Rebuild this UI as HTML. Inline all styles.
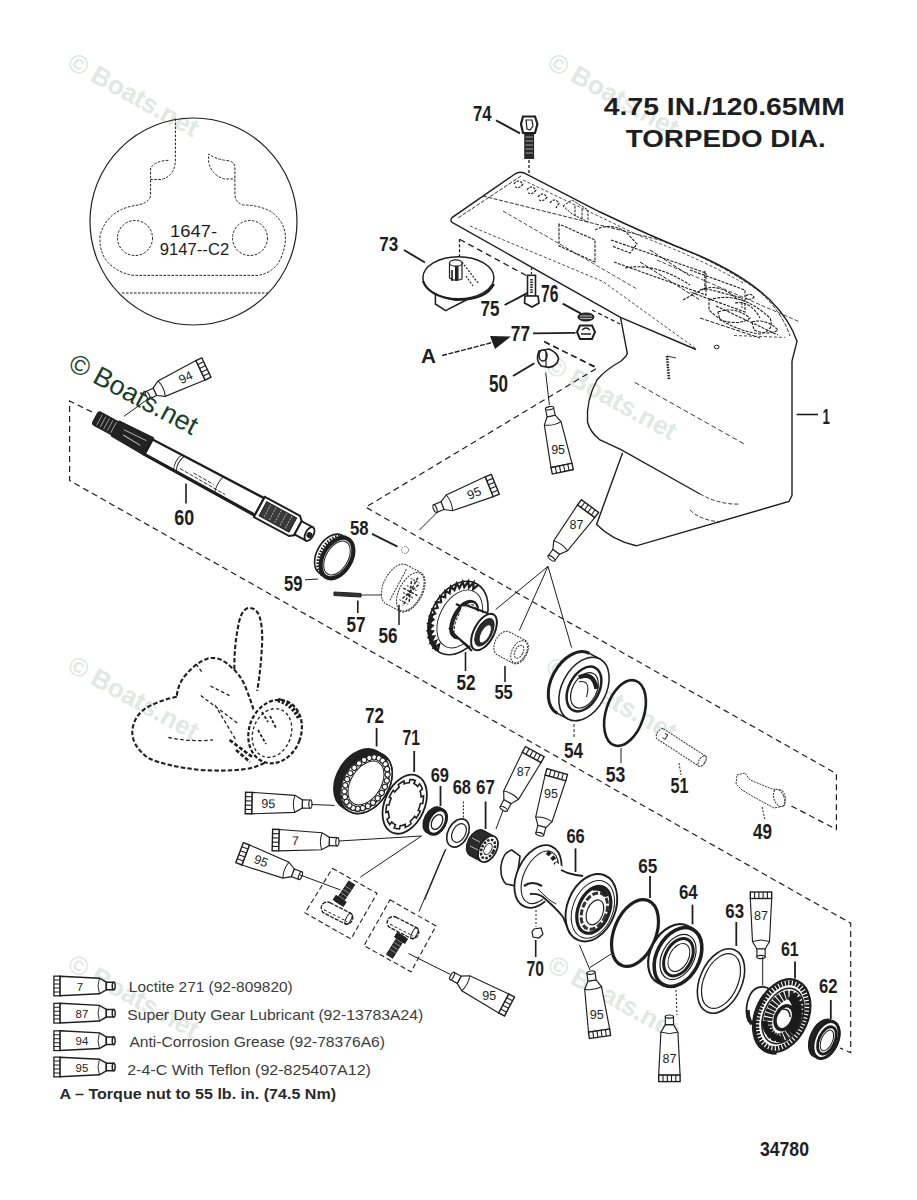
<!DOCTYPE html>
<html><head><meta charset="utf-8"><style>
html,body{margin:0;padding:0;background:#fff;}
svg{display:block;font-family:"Liberation Sans",sans-serif;}

</style></head><body>
<svg width="917" height="1200" viewBox="0 0 917 1200" fill="#1e1e1e">
<rect width="917" height="1200" fill="#fff"/>
<text x="0" y="0" font-size="26" fill="#e2e8e4" font-weight="bold" transform="translate(66,67.5) rotate(29)">© Boats.net</text>
<text x="0" y="0" font-size="26" fill="#e2e8e4" font-weight="bold" transform="translate(546,67.5) rotate(29)">© Boats.net</text>
<text x="0" y="0" font-size="26" fill="#e2e8e4" font-weight="bold" transform="translate(544,370.5) rotate(29)">© Boats.net</text>
<text x="0" y="0" font-size="26" fill="#e2e8e4" font-weight="bold" transform="translate(66,670.5) rotate(29)">© Boats.net</text>
<text x="0" y="0" font-size="26" fill="#e2e8e4" font-weight="bold" transform="translate(544,671.5) rotate(29)">© Boats.net</text>
<text x="0" y="0" font-size="26" fill="#e2e8e4" font-weight="bold" transform="translate(66,969) rotate(29)">© Boats.net</text>
<text x="0" y="0" font-size="26" fill="#e2e8e4" font-weight="bold" transform="translate(546,970) rotate(29)">© Boats.net</text>
<text x="603.8" y="115.1" font-size="23.5" font-weight="bold" textLength="241" lengthAdjust="spacingAndGlyphs">4.75 IN./120.65MM</text>
<text x="625.8" y="146.6" font-size="23.5" font-weight="bold" textLength="200" lengthAdjust="spacingAndGlyphs">TORPEDO DIA.</text>
<circle cx="193.5" cy="221.5" r="103.5" fill="none" stroke="#1e1e1e" stroke-width="1.2"/>
<path d="M175.4,118.5 V156 Q176.5,176 161,179.5 H150.6 M168.3,160.3 Q155,161 150.6,168 V195 Q150,204 132,206 Q106,212 100,236 Q99,258 114,267.5 Q122,274 134,275.4 H258 Q272,273 279,262 Q286,248 285.4,236 Q284,220 270,211 Q258,205 243,205 Q236,203 234.9,195 V166.7 Q234,161 226.4,160.5 Q215,159 208.7,154 V162.5 Q212,176 225,179 H234.9" stroke="#1e1e1e" stroke-width="1.0" fill="none" stroke-dasharray="2.5,1.5" />
<circle cx="135" cy="238" r="17.5" fill="none" stroke="#1e1e1e" stroke-width="1" stroke-dasharray="2.5,1.5"/>
<circle cx="250" cy="238" r="17.5" fill="none" stroke="#1e1e1e" stroke-width="1" stroke-dasharray="2.5,1.5"/>
<line x1="122.0" y1="293.0" x2="268.0" y2="293.0" stroke="#1e1e1e" stroke-width="1" stroke-dasharray="2.5,1.5"/>
<text x="193.5" y="236.6" font-size="16" text-anchor="middle" textLength="47" lengthAdjust="spacingAndGlyphs">1647-</text>
<text x="194.5" y="255" font-size="16" text-anchor="middle" textLength="69.4" lengthAdjust="spacingAndGlyphs">9147--C2</text>
<path d="M92,412 L69.6,401 L69.6,480.5 L850.7,923.2 L850.7,1052.7 L840,1048" stroke="#1e1e1e" stroke-width="1.2" fill="none" stroke-dasharray="6,4" />
<path d="M544.3,341.3 L596.8,368.3 L365.7,507.2 L836.4,773.7 L836.4,829.4 L789,804.8" stroke="#1e1e1e" stroke-width="1.2" fill="none" stroke-dasharray="6,4" />
<path d="M519.2,172 L452,217.6 Q449,222 454.4,223.6 L620.5,317.4 L696,349.5 L792,361 L797,341.3 Q790,320 770,300 Q745,276 700,256 Q650,236 600,212 Z" stroke="none" stroke-width="0" fill="#fff" />
<path d="M696,349.5 L620.5,317.4 L454.4,223.6 Q449,222 452,217.6 L515,174 Q519.2,171 524,173 L600,212 Q650,236 700,256 Q745,276 770,300 Q790,320 797,341.3 L792,361" stroke="#1e1e1e" stroke-width="1.4" fill="none" />
<path d="M521,176 L458,218 M483,196 L660,240 Q720,262 760,292 Q782,312 790,336" stroke="#1e1e1e" stroke-width="0.9" fill="none" stroke-dasharray="4,1.5" />
<path d="M523,180 L640,236 Q700,258 745,284" stroke="#1e1e1e" stroke-width="0.8" fill="none" stroke-dasharray="3,2" />
<path d="M470,226 L603,281.5 L696,348.7 M734,335.5 L785,337.4" stroke="#1e1e1e" stroke-width="0.8" fill="none" stroke-dasharray="3,2" />
<path d="M503,211 L637,289 M657,260 L800,322" stroke="#1e1e1e" stroke-width="0.8" fill="none" stroke-dasharray="4,2" />
<path d="M514,184 Q518,178 523,184 Q520,189 515,187 M527,190 Q531,184 536,190 Q533,195 528,193 M538,197 Q542,191 547,197 Q544,202 539,200 M550,203 Q554,197 559,203 L556,208" stroke="#1e1e1e" stroke-width="1.2" fill="none" stroke-dasharray="2.5,1.2" />
<path d="M563,206 L572,200 L588,210 L588,222 L572,214 Z M575,206 L575,216 M582,209 L582,219" stroke="#1e1e1e" stroke-width="1.0" fill="none" stroke-dasharray="2.5,1.2" />
<path d="M559,224 L559,246 L595,262 L595,240 Z M595,230 Q610,222 626,232 L637,244 L630,253 L612,246" stroke="#1e1e1e" stroke-width="1.1" fill="none" stroke-dasharray="3,1.2" />
<path d="M611,240 L706,273 M614,262 L706,295 L706,273 M625,268 Q655,262 690,285" stroke="#1e1e1e" stroke-width="1.1" fill="none" stroke-dasharray="3,1.2" />
<path d="M690,270 L745,290 L745,312 L690,292 M700,290 Q720,282 738,300" stroke="#1e1e1e" stroke-width="1.1" fill="none" stroke-dasharray="3,1.2" />
<path d="M709,300 Q740,290 770,318 Q775,330 760,334 Q730,330 709,310 Z M735,303 Q750,300 760,318" stroke="#1e1e1e" stroke-width="1.1" fill="none" stroke-dasharray="3,1.2" />
<path d="M716,306 L778,335" stroke="#1e1e1e" stroke-width="1.1" fill="none" stroke-dasharray="3,1.2" />
<path d="M704.8,270.7 L704.8,290 M683,300 L704.8,288.3 L742,298 L742,308 M746,296 Q750,292 754,297 Q750,301 746,298" stroke="#1e1e1e" stroke-width="1.1" fill="none" stroke-dasharray="3,1.2" />
<path d="M718,312 Q735,306 750,318 Q740,326 720,320 Z M752,322 Q766,318 778,330 Q768,336 754,330 Z" stroke="#1e1e1e" stroke-width="1.1" fill="none" stroke-dasharray="3,1.2" />
<path d="M640,262 L700,300 M650,250 L690,276 M700,318 L760,338" stroke="#1e1e1e" stroke-width="1.0" fill="none" stroke-dasharray="4,1.5" />
<path d="M620.5,317.4 L627.3,353.3 L625.8,356.3 L621.2,361 Q605,370 597,380 Q586,400 587.5,422 Q590,432 600,440 L621,449.6 L700,494" stroke="#1e1e1e" stroke-width="1.4" fill="none" />
<path d="M792,361 L792,495.4 L789,501.5 L636.3,545.8 Q612,540 596.6,524.4 L622.6,452.7" stroke="#1e1e1e" stroke-width="1.4" fill="none" />
<path d="M634.8,382.4 L746,445" stroke="#1e1e1e" stroke-width="0.9" fill="none" stroke-dasharray="5,3" />
<path d="M700,494 Q720,505 740,504 M690,510 Q700,520 720,522" stroke="#1e1e1e" stroke-width="0.9" fill="none" stroke-dasharray="4,2" />
<path d="M667,356 L669,380" stroke="#1e1e1e" stroke-width="2.6" fill="none" stroke-dasharray="1.5,1.2" />
<path d="M667,356 L676,358" stroke="#1e1e1e" stroke-width="0.9" fill="none" />
<ellipse cx="716.6" cy="347" rx="2.5" ry="1.8" fill="none" stroke="#1e1e1e" stroke-width="1"/>
<line x1="796.6" y1="414.5" x2="818.0" y2="414.5" stroke="#1e1e1e" stroke-width="1.6"/>
<line x1="496.0" y1="120.3" x2="520.0" y2="133.4" stroke="#1e1e1e" stroke-width="1.9"/>
<g stroke="#1e1e1e"><path d="M523,116.5 L535,116.5 L537.4,124 L535,133 L523,133 L521,124 Z" fill="#fff" stroke-width="2.2"/><path d="M526,120 L532,120 L533,126 L530,130 L527,129 Z" fill="none" stroke-width="1.2"/><rect x="524.8" y="133.4" width="8.8" height="25" fill="#2a2a2a" stroke-width="1"/><path d="M525.5,137 H533 M525.5,141 H533 M525.5,145 H533 M525.5,149 H533 M525.5,153 H533" stroke="#aaa" stroke-width="0.9"/></g>
<line x1="529.0" y1="160.0" x2="529.0" y2="174.0" stroke="#1e1e1e" stroke-width="1.3" stroke-dasharray="3,2"/>
<line x1="404.0" y1="250.0" x2="425.0" y2="262.5" stroke="#1e1e1e" stroke-width="1.9"/>
<path d="M435.4,290 V304 L445.6,310.6 L472,297" stroke="#1e1e1e" stroke-width="1.5" fill="#fff" />
<ellipse cx="458.4" cy="277.7" rx="35.5" ry="21" fill="#fff" stroke="#1e1e1e" stroke-width="1.5"/>
<path d="M423,281 Q428,296 456,300 Q486,300 494,284" stroke="#1e1e1e" stroke-width="2.2" fill="none" />
<g stroke="#1e1e1e" stroke-width="1.2" fill="#fff"><path d="M449.5,263 L449.5,278 Q455,282 462,279 L462,263 Z"/><ellipse cx="455.8" cy="263" rx="6.3" ry="3.2"/><rect x="455" y="266" width="3.5" height="14" fill="#222" stroke="none"/><path d="M452,270 V281" stroke-width="1.6"/><path d="M462,262 L478,283 M466,276 L473,286" stroke-dasharray="2,1.5" fill="none"/></g>
<line x1="459.5" y1="239.3" x2="459.5" y2="256.4" stroke="#1e1e1e" stroke-width="1.3" stroke-dasharray="3,2"/>
<line x1="459.5" y1="239.3" x2="531.0" y2="278.0" stroke="#1e1e1e" stroke-width="1.3" stroke-dasharray="6,4"/>
<line x1="504.6" y1="305.0" x2="528.7" y2="292.3" stroke="#1e1e1e" stroke-width="1.9"/>
<line x1="531.5" y1="268.0" x2="531.5" y2="275.0" stroke="#1e1e1e" stroke-width="1.2" stroke-dasharray="2,2"/>
<rect x="527.5" y="275.3" width="8" height="21" fill="#fff" stroke="#1e1e1e" stroke-width="1.6"/>
<path d="M531.5,279 V294" stroke="#1e1e1e" stroke-width="2.5" stroke-dasharray="1.5,1"/>
<path d="M525,296 L538,296 L539,303 L532,307 L524.5,303 Z" fill="#fff" stroke="#1e1e1e" stroke-width="1.7"/>
<line x1="562.7" y1="303.6" x2="581.0" y2="313.6" stroke="#1e1e1e" stroke-width="1.8"/>
<line x1="592.0" y1="310.0" x2="620.0" y2="324.0" stroke="#1e1e1e" stroke-width="1.3" stroke-dasharray="4,3"/>
<ellipse cx="586" cy="317" rx="7.8" ry="3.8" fill="#3a3a3a" stroke="#1e1e1e" stroke-width="1.5"/>
<path d="M580,316 H592 M580,318.5 H592" stroke="#ccc" stroke-width="0.8"/>
<line x1="533.0" y1="333.4" x2="575.5" y2="332.8" stroke="#1e1e1e" stroke-width="1.8"/>
<path d="M580,325.5 L592,325.5 L595,332 L592,339 L580,339 L577,332 Z" fill="#fff" stroke="#1e1e1e" stroke-width="2"/>
<path d="M582,330 Q586,326 590,330 M581,334 L591,334" fill="none" stroke="#1e1e1e" stroke-width="1.3"/>
<line x1="442.2" y1="355.5" x2="498.0" y2="341.0" stroke="#1e1e1e" stroke-width="1.4" stroke-dasharray="5,1.5"/>
<path d="M490,336 L511,336.5 L495,349 Z" fill="#1e1e1e"/>
<line x1="513.0" y1="376.0" x2="534.4" y2="363.2" stroke="#1e1e1e" stroke-width="1.9"/>
<line x1="544.3" y1="342.0" x2="596.7" y2="367.4" stroke="#1e1e1e" stroke-width="1.3" stroke-dasharray="6,4"/>
<path d="M539,351 L549,349 Q558,353 558.5,359 Q557,366 549,367.4 L541,366 Q535,360 539,351 Z" fill="#fff" stroke="#1e1e1e" stroke-width="1.6"/>
<ellipse cx="543" cy="355.5" rx="4" ry="5.5" fill="#fff" stroke="#1e1e1e" stroke-width="1.6"/>
<path d="M546,352 V366" stroke="#1e1e1e" stroke-width="1.2"/>
<line x1="545.7" y1="372.5" x2="549.4" y2="405.0" stroke="#1e1e1e" stroke-width="1"/>
<g transform="translate(562.8,471.8) rotate(-101.8) scale(1.0)" stroke="#1e1e1e" fill="#fff" stroke-width="1.15"><path d="M6.5,-10.7 L49.5,-8.5 L57,-4.1 L57,4.1 L49.5,8.5 L6.5,10.7 Z"/><path d="M49.5,-8.5 Q46.5,0 49.5,8.5" fill="none" stroke-width="1"/><rect x="0" y="-10.7" width="6.5" height="21.4" stroke-width="1.4"/><path d="M0,-6.4 H6.5 M0,-2.1 H6.5 M0,2.1 H6.5 M0,6.4 H6.5" fill="none" stroke-width="1.1"/><path d="M57,-4.1 L65,-4.1 L65,4.1 L57,4.1 Z"/><ellipse cx="65" cy="0" rx="1.6" ry="4.1" fill="#fff"/></g>
<text x="0" y="4.5" font-size="12.5" text-anchor="middle" transform="translate(558.1,449.3) rotate(0.0)">95</text>
<g transform="translate(96,418) rotate(28.4)" stroke="#1e1e1e"><rect x="-1" y="-7.5" width="25" height="15" rx="3" fill="#222" stroke-width="1"/><path d="M4,-6 V6 M8,-6 V6 M12,-6 V6 M16,-6 V6 M20,-6 V6" stroke="#999" stroke-width="0.9"/><path d="M22,-8.5 L60,-10 L60,10 L22,8.5 Z" fill="#222" stroke-width="1"/><path d="M30,-3 L55,-4 M32,2 L52,3" stroke="#bbb" stroke-width="1"/><path d="M60,-8 L95,-8.5 L186,-9.5 L186,10 L95,9 L60,9 Z" fill="#fff" stroke-width="2.4"/><path d="M60,9 L186,10" fill="none" stroke-width="3.2"/><path d="M93,-8.5 Q89,0 93,9 M96,-8.5 Q92,0 96,9" fill="none" stroke-width="0.9"/><path d="M98,4.5 L150,6 M112,2 L135,2.5" fill="none" stroke-width="0.8" stroke-dasharray="4,1.5"/><path d="M140,-9.2 Q137,0 140,9.8" fill="none" stroke-width="0.9"/><path d="M186,-11 L226,-11 L230,-7 L230,9 L226,12 L186,12 Z" fill="#fff" stroke-width="2"/><path d="M190,-7.5 L224,-7.5 L224,8.5 L190,8.5 Z" fill="#3a3a3a" stroke-width="1"/><path d="M195,-7 V8 M201,-7 V8 M207,-7 V8 M213,-7 V8 M219,-7 V8" stroke="#aaa" stroke-width="0.9" stroke-dasharray="2,1"/><path d="M230,-7 L243,-7 L243,8 L230,8 Z" fill="#fff" stroke-width="2"/><ellipse cx="243" cy="0.5" rx="4" ry="7.5" fill="#fff" stroke-width="1.8"/><circle cx="243.5" cy="1.5" r="2.5" fill="#222"/></g>
<line x1="186.0" y1="483.5" x2="186.0" y2="503.4" stroke="#1e1e1e" stroke-width="1.6"/>
<g transform="translate(206.4,367.5) rotate(154.7) scale(1.0)" stroke="#1e1e1e" fill="#fff" stroke-width="1.15"><path d="M6.5,-10.7 L49.5,-8.5 L57,-4.1 L57,4.1 L49.5,8.5 L6.5,10.7 Z"/><path d="M49.5,-8.5 Q46.5,0 49.5,8.5" fill="none" stroke-width="1"/><rect x="0" y="-10.7" width="6.5" height="21.4" stroke-width="1.4"/><path d="M0,-6.4 H6.5 M0,-2.1 H6.5 M0,2.1 H6.5 M0,6.4 H6.5" fill="none" stroke-width="1.1"/><path d="M57,-4.1 L65,-4.1 L65,4.1 L57,4.1 Z"/><ellipse cx="65" cy="0" rx="1.6" ry="4.1" fill="#fff"/></g>
<text x="0" y="4.5" font-size="12.5" text-anchor="middle" transform="translate(185.6,377.3) rotate(-25.3)">94</text>
<line x1="151.5" y1="396.5" x2="124.0" y2="416.3" stroke="#1e1e1e" stroke-width="1"/>
<line x1="372.0" y1="533.9" x2="397.5" y2="546.6" stroke="#1e1e1e" stroke-width="1.8"/>
<circle cx="405" cy="550" r="3.5" fill="#fff" stroke="#555" stroke-width="0.9" stroke-dasharray="1.5,1"/>
<g transform="translate(495.3,484.3) rotate(158.0) scale(1.0)" stroke="#1e1e1e" fill="#fff" stroke-width="1.15"><path d="M6.5,-10.7 L49.5,-8.5 L57,-4.1 L57,4.1 L49.5,8.5 L6.5,10.7 Z"/><path d="M49.5,-8.5 Q46.5,0 49.5,8.5" fill="none" stroke-width="1"/><rect x="0" y="-10.7" width="6.5" height="21.4" stroke-width="1.4"/><path d="M0,-6.4 H6.5 M0,-2.1 H6.5 M0,2.1 H6.5 M0,6.4 H6.5" fill="none" stroke-width="1.1"/><path d="M57,-4.1 L65,-4.1 L65,4.1 L57,4.1 Z"/><ellipse cx="65" cy="0" rx="1.6" ry="4.1" fill="#fff"/></g>
<text x="0" y="4.5" font-size="12.5" text-anchor="middle" transform="translate(474.0,492.9) rotate(-22.0)">95</text>
<line x1="438.0" y1="511.5" x2="419.5" y2="530.0" stroke="#1e1e1e" stroke-width="1"/>
<g transform="translate(337,558) rotate(30)" stroke="#1e1e1e"><path d="M0,-22 L-7,-22 A14,22 0 0 0 -7,22 L0,22" fill="none" stroke-width="1.6"/><path d="M-3,-22 A14,22 0 0 0 -3,22" fill="none" stroke-width="3.5" stroke-dasharray="1.5,1.5"/><ellipse cx="0" cy="0" rx="14" ry="22" fill="none" stroke-width="4.2"/><ellipse cx="0" cy="0" rx="11" ry="18.5" fill="none" stroke-width="1"/></g>
<line x1="305.0" y1="579.8" x2="318.0" y2="579.0" stroke="#1e1e1e" stroke-width="1"/>
<path d="M334,592 L361,593.5 L361,597 L334,595.5 Z" fill="#333" stroke="#1e1e1e" stroke-width="1"/>
<line x1="361.0" y1="595.0" x2="390.0" y2="595.0" stroke="#1e1e1e" stroke-width="0.9"/>
<line x1="357.8" y1="600.5" x2="357.8" y2="613.0" stroke="#1e1e1e" stroke-width="1.6"/>
<g transform="translate(405,589) rotate(28)" stroke="#333" stroke-width="1" fill="#fff" stroke-dasharray="2,1"><path d="M-10,-22 L6,-22 A12,22 0 0 1 6,22 L-10,22 A12,22 0 0 1 -10,-22 Z"/><ellipse cx="6" cy="0" rx="11" ry="21"/><path d="M0,-12 L10,-12 M0,-4 L12,-4 M0,4 L12,4 M0,12 L10,12 M-8,-18 V18" fill="none"/><path d="M6,-16 V16 M-2,0 H14 M2,-10 L10,10 M10,-10 L2,10" fill="none" stroke="#222" stroke-width="1.4" stroke-dasharray="3,1.5"/></g>
<line x1="399.0" y1="604.8" x2="399.0" y2="625.0" stroke="#1e1e1e" stroke-width="1.5"/>
<g transform="translate(458,618) rotate(28)" stroke="#1e1e1e"><ellipse cx="0" cy="0" rx="27" ry="39" fill="#fff" stroke-width="1.6"/><path d="M-2.4,38.9 L-4.2,32.2 L-7.6,37.4 L-8.5,30.4 L-12.5,34.6 L-12.4,27.4 L-16.9,30.4 L-15.9,23.4 L-20.7,25.1 L-18.7,18.5 L-23.7,18.8 L-20.9,12.9 L-25.8,11.7 L-22.2,6.7 L-26.8,4.2 L-22.7,0.4 L-26.9,-3.4 L-22.3,-6.0 L-25.9,-10.9 L-21.0,-12.2 L-23.9,-18.0 L-19.0,-17.9 L-21.1,-24.4 L-16.2,-22.9 L-17.4,-29.9 L-12.8,-27.0 L-13.0,-34.2 L-8.9,-30.1 L-8.1,-37.2 L-4.7,-32.1 L-2.9,-38.8 L-0.2,-32.8 L2.4,-38.9" fill="none" stroke-width="2.2"/><path d="M-25,8 A27,39 0 0 0 -4,38" fill="none" stroke-width="3.5"/><ellipse cx="2" cy="0" rx="20" ry="31" fill="none" stroke-width="0.9"/></g>
<g transform="translate(465.0,620.0) rotate(28.0)" stroke="#1e1e1e" stroke-width="2.2"><path d="M0,-20.0 L-2.0,-20.0 A10.0,20.0 0 0 0 -2.0,20.0 L0,20.0 Z" fill="#fff"/><ellipse cx="0" cy="0" rx="10.0" ry="20.0" fill="#fff"/></g>
<g transform="translate(465,620) rotate(28)" stroke="#1e1e1e"><ellipse cx="0" cy="0" rx="8" ry="17" fill="none" stroke-width="1" stroke-dasharray="3,1.5"/></g>
<path d="M456,604 L478,614 M449,628 L470,648" stroke="#1e1e1e" stroke-width="2" fill="none"/>
<path d="M462,606 L486,614 L496,640 L478,652 L454,634 Z" fill="#fff" stroke="none"/>
<path d="M463,604 L487,613 M452,632 L472,651" stroke="#1e1e1e" stroke-width="2" fill="none"/>
<g transform="translate(484,632) rotate(28)" stroke="#1e1e1e"><ellipse cx="0" cy="0" rx="10" ry="20" fill="#fff" stroke-width="2"/><ellipse cx="0.5" cy="0" rx="7.5" ry="15" fill="#2a2a2a" stroke-width="1"/><ellipse cx="2" cy="1" rx="4.5" ry="10" fill="#fff" stroke-width="0.8"/></g>
<line x1="465.5" y1="652.0" x2="465.5" y2="671.0" stroke="#1e1e1e" stroke-width="1.6"/>
<g transform="translate(512,648) rotate(28)" stroke="#333" stroke-width="1" fill="#fff" stroke-dasharray="2,1"><path d="M-10,-13 L8,-13 A8,13 0 0 1 8,13 L-10,13 A8,13 0 0 1 -10,-13 Z"/><ellipse cx="8" cy="0" rx="7" ry="12"/><ellipse cx="8" cy="0" rx="4" ry="7"/></g>
<line x1="505.0" y1="666.0" x2="505.0" y2="682.0" stroke="#1e1e1e" stroke-width="1.6"/>
<g transform="translate(590.0,506.0) rotate(126.4) scale(1.0)" stroke="#1e1e1e" fill="#fff" stroke-width="1.15"><path d="M6.5,-10.7 L49.5,-8.5 L57,-4.1 L57,4.1 L49.5,8.5 L6.5,10.7 Z"/><path d="M49.5,-8.5 Q46.5,0 49.5,8.5" fill="none" stroke-width="1"/><rect x="0" y="-10.7" width="6.5" height="21.4" stroke-width="1.4"/><path d="M0,-6.4 H6.5 M0,-2.1 H6.5 M0,2.1 H6.5 M0,6.4 H6.5" fill="none" stroke-width="1.1"/><path d="M57,-4.1 L65,-4.1 L65,4.1 L57,4.1 Z"/><ellipse cx="65" cy="0" rx="1.6" ry="4.1" fill="#fff"/></g>
<text x="0" y="4.5" font-size="12.5" text-anchor="middle" transform="translate(576.4,524.5) rotate(0.0)">87</text>
<line x1="548.0" y1="566.4" x2="495.7" y2="609.5" stroke="#1e1e1e" stroke-width="1"/>
<line x1="548.0" y1="566.4" x2="519.3" y2="630.5" stroke="#1e1e1e" stroke-width="1"/>
<line x1="548.0" y1="566.4" x2="571.6" y2="647.5" stroke="#1e1e1e" stroke-width="1"/>
<g transform="translate(584.0,689.0) rotate(28.0)" stroke="#1e1e1e" stroke-width="1.5"><path d="M0,-34.0 L-12.0,-34.0 A22.0,34.0 0 0 0 -12.0,34.0 L0,34.0 Z" fill="#fff"/><ellipse cx="0" cy="0" rx="22.0" ry="34.0" fill="#fff"/></g>
<g transform="translate(584,689) rotate(28)" stroke="#1e1e1e"><path d="M-12,-34 A22,34 0 0 0 -12,34" fill="none" stroke-width="3"/><ellipse cx="0" cy="0" rx="15" ry="24" fill="#fff" stroke-width="2.5"/><ellipse cx="1" cy="1" rx="12" ry="19" fill="#fff" stroke-width="1.2"/><path d="M-10,-8 Q0,-20 11,-6" fill="none" stroke-width="4.5"/><path d="M-8,-4 Q2,-12 6,6" fill="none" stroke-width="1"/></g>
<line x1="574.0" y1="724.0" x2="574.0" y2="738.0" stroke="#1e1e1e" stroke-width="1" stroke-dasharray="3,2"/>
<ellipse cx="0" cy="0" rx="19.0" ry="34.0" transform="translate(625.0,713.0) rotate(18.0)" stroke="#1e1e1e" stroke-width="2.6" fill="none"/>
<line x1="621.0" y1="748.0" x2="621.0" y2="763.0" stroke="#1e1e1e" stroke-width="1"/>
<g transform="translate(682,748) rotate(33)" stroke="#333" stroke-width="1" fill="#fff" stroke-dasharray="2,1"><path d="M-26,-6 L24,-6 A3,6 0 0 1 24,6 L-26,6 A3,6 0 0 1 -26,-6 Z"/><ellipse cx="24" cy="0" rx="3" ry="6"/><path d="M-22,-3 L-19,-3 L-19,2 L-22,2" stroke-dasharray="none"/></g>
<line x1="679.0" y1="763.0" x2="681.0" y2="775.0" stroke="#1e1e1e" stroke-width="1" stroke-dasharray="2,1.5"/>
<g stroke="#333" stroke-width="1" fill="#fff" stroke-dasharray="2,1"><path d="M737,775 L745,773 L750,780 L772,789 L782,790 Q788,798 784,806 L774,808 L752,796 L742,790 L736,784 Z"/><ellipse cx="779" cy="798" rx="5" ry="9" transform="rotate(-20 779 798)"/></g>
<line x1="762.0" y1="807.0" x2="765.0" y2="820.0" stroke="#1e1e1e" stroke-width="1" stroke-dasharray="2,1.5"/>
<path d="M234.4,669.2 Q234,645 239.2,621.2 Q242,610 248,608 Q256,607 259.5,616.4 Q263,628 262,645 Q261,668 257.2,690.8" stroke="#1e1e1e" stroke-width="2.1" fill="none" stroke-dasharray="4.5,2.2" />
<path d="M176.8,695.6 Q178,685 184,677 Q195,663 208,658.4 Q220,656 230.8,666.8 Q240,674 245,686 Q250,698 253.6,710" stroke="#1e1e1e" stroke-width="2.1" fill="none" stroke-dasharray="4.5,2.2" />
<path d="M176.8,696.8 Q160,700 146,708 Q134,716 132.4,730 Q131,745 148,758 Q165,766 200.8,770 Q235,772 253.6,767.5 L265.5,762.7" stroke="#1e1e1e" stroke-width="2.1" fill="none" stroke-dasharray="4.5,2.2" />
<path d="M210.4,686 L229.6,695.6 M200.8,695.6 L239.2,724.4 M168.4,737.5 Q190,742 212.8,740 M196,664 L202,672 M215,705 L236,740" stroke="#1e1e1e" stroke-width="1.3" fill="none" stroke-dasharray="3.5,2.5" />
<path d="M229.6,740 L253.6,758 M236,750 L250,762" stroke="#1e1e1e" stroke-width="2.6" fill="none" stroke-dasharray="4,2" />
<ellipse cx="0" cy="0" rx="26.0" ry="32.4" transform="translate(275.1,731.6) rotate(20.0)" stroke="#1e1e1e" stroke-width="2.2" fill="none" stroke-dasharray="4,2"/>
<ellipse cx="0" cy="0" rx="19.0" ry="25.0" transform="translate(272.0,733.0) rotate(20.0)" stroke="#1e1e1e" stroke-width="1.3" fill="none" stroke-dasharray="3,2.5"/>
<path d="M278,700 Q292,704 299,718" stroke="#1e1e1e" stroke-width="4.5" fill="none" stroke-dasharray="2.5,1.8" />
<path d="M262,712 L268,722 M258,730 L266,744 M270,716 L276,728" stroke="#1e1e1e" stroke-width="1.8" fill="none" stroke-dasharray="3,2" />
<g transform="translate(366.0,783.0) rotate(32.0)" stroke="#1e1e1e" stroke-width="1.5"><path d="M0,-33.0 L-7.0,-33.0 A23.0,33.0 0 0 0 -7.0,33.0 L0,33.0 Z" fill="#222"/><ellipse cx="0" cy="0" rx="23.0" ry="33.0" fill="#fff"/></g>
<g transform="translate(366,783) rotate(32)" stroke="#1e1e1e"><ellipse cx="0" cy="0" rx="23" ry="33" fill="#fff" stroke-width="1.6"/><ellipse cx="-1" cy="0" rx="21" ry="31" fill="none" stroke-width="1.2" stroke="#222"/><path d="M-21,-8 A21,31 0 0 1 6,-30" fill="none" stroke-width="4" stroke="#222"/><g fill="#fff" stroke-width="1.1"><circle cx="18.5" cy="0.0" r="2.6"/><circle cx="18.0" cy="6.7" r="2.6"/><circle cx="16.4" cy="13.0" r="2.6"/><circle cx="13.8" cy="18.6" r="2.6"/><circle cx="10.5" cy="23.0" r="2.6"/><circle cx="6.6" cy="26.2" r="2.6"/><circle cx="2.2" cy="27.8" r="2.6"/><circle cx="-2.2" cy="27.8" r="2.6"/><circle cx="-6.6" cy="26.2" r="2.6"/><circle cx="-10.5" cy="23.0" r="2.6"/><circle cx="-13.8" cy="18.6" r="2.6"/><circle cx="-16.4" cy="13.0" r="2.6"/><circle cx="-18.0" cy="6.7" r="2.6"/><circle cx="-18.5" cy="0.0" r="2.6"/><circle cx="-18.0" cy="-6.7" r="2.6"/><circle cx="-16.4" cy="-13.0" r="2.6"/><circle cx="-13.8" cy="-18.6" r="2.6"/><circle cx="-10.5" cy="-23.0" r="2.6"/><circle cx="-6.6" cy="-26.2" r="2.6"/><circle cx="-2.2" cy="-27.8" r="2.6"/><circle cx="2.2" cy="-27.8" r="2.6"/><circle cx="6.6" cy="-26.2" r="2.6"/><circle cx="10.5" cy="-23.0" r="2.6"/><circle cx="13.8" cy="-18.6" r="2.6"/><circle cx="16.4" cy="-13.0" r="2.6"/><circle cx="18.0" cy="-6.7" r="2.6"/></g><ellipse cx="0" cy="0" rx="15" ry="24" fill="#fff" stroke-width="1"/></g>
<line x1="376.6" y1="728.0" x2="376.6" y2="746.5" stroke="#1e1e1e" stroke-width="1.8"/>
<g transform="translate(404.7,804.2) rotate(24)" stroke="#1e1e1e"><ellipse cx="0" cy="0" rx="20" ry="31" fill="#fff" stroke-width="1.8"/><path d="M17.0,0.0 L16.8,4.1 L16.8,4.1 L16.2,8.0 L14.1,7.0 L13.2,10.3 L13.2,10.3 L12.0,13.3 L13.8,15.3 L12.0,18.4 L12.0,18.4 L10.0,21.0 L8.7,18.3 L6.7,20.2 L6.7,20.2 L4.6,21.5 L5.3,24.7 L2.7,25.7 L2.7,25.7 L0.0,26.0 L0.0,22.6 L-2.3,22.3 L-2.3,22.3 L-4.6,21.5 L-5.3,24.7 L-7.7,23.2 L-7.7,23.2 L-10.0,21.0 L-8.7,18.3 L-10.5,16.0 L-10.5,16.0 L-12.0,13.3 L-13.8,15.3 L-15.1,11.8 L-15.1,11.8 L-16.2,8.0 L-14.1,7.0 L-14.6,3.5 L-14.6,3.5 L-14.8,0.0 L-17.0,0.0 L-16.8,-4.1 L-16.8,-4.1 L-16.2,-8.0 L-14.1,-7.0 L-13.2,-10.3 L-13.2,-10.3 L-12.0,-13.3 L-13.8,-15.3 L-12.0,-18.4 L-12.0,-18.4 L-10.0,-21.0 L-8.7,-18.3 L-6.7,-20.2 L-6.7,-20.2 L-4.6,-21.5 L-5.3,-24.7 L-2.7,-25.7 L-2.7,-25.7 L-0.0,-26.0 L-0.0,-22.6 L2.3,-22.3 L2.3,-22.3 L4.6,-21.5 L5.3,-24.7 L7.7,-23.2 L7.7,-23.2 L10.0,-21.0 L8.7,-18.3 L10.5,-16.0 L10.5,-16.0 L12.0,-13.3 L13.8,-15.3 L15.1,-11.8 L15.1,-11.8 L16.2,-8.0 L14.1,-7.0 L14.6,-3.5 L14.6,-3.5 L14.8,-0.0 Z" fill="#fff" stroke-width="1.6"/></g>
<line x1="414.2" y1="751.0" x2="414.2" y2="772.0" stroke="#1e1e1e" stroke-width="1.8"/>
<g transform="translate(437.0,822.0) rotate(28.0)" stroke="#1e1e1e" stroke-width="1.5"><path d="M0,-14.0 L-4.0,-14.0 A9.0,14.0 0 0 0 -4.0,14.0 L0,14.0 Z" fill="#222"/><ellipse cx="0" cy="0" rx="9.0" ry="14.0" fill="#fff"/></g>
<g transform="translate(437,822) rotate(28)" stroke="#1e1e1e"><ellipse cx="0" cy="0" rx="8" ry="13" fill="#fff" stroke-width="2.5"/><ellipse cx="0" cy="0" rx="5" ry="8" fill="#fff" stroke-width="1.3"/></g>
<line x1="440.5" y1="786.0" x2="440.5" y2="806.0" stroke="#1e1e1e" stroke-width="1.8"/>
<ellipse cx="0" cy="0" rx="10.0" ry="15.0" transform="translate(458.0,833.0) rotate(28.0)" stroke="#1e1e1e" stroke-width="1.6" fill="#fff"/>
<ellipse cx="0" cy="0" rx="6.5" ry="10.0" transform="translate(459.0,833.0) rotate(28.0)" stroke="#1e1e1e" stroke-width="1.2" fill="none"/>
<line x1="463.4" y1="801.5" x2="463.4" y2="818.0" stroke="#1e1e1e" stroke-width="1" stroke-dasharray="2,1.5"/>
<g transform="translate(488.0,849.0) rotate(28.0)" stroke="#1e1e1e" stroke-width="1.5"><path d="M0,-14.0 L-13.0,-14.0 A8.5,14.0 0 0 0 -13.0,14.0 L0,14.0 Z" fill="#2a2a2a"/><ellipse cx="0" cy="0" rx="8.5" ry="14.0" fill="#fff"/></g>
<g transform="translate(488,849) rotate(28)" stroke="#1e1e1e"><ellipse cx="0" cy="0" rx="8.5" ry="14" fill="#fff" stroke-width="1.6"/><ellipse cx="0" cy="0" rx="6" ry="10" fill="none" stroke-width="2.5" stroke-dasharray="2.5,1.5"/><ellipse cx="0" cy="0" rx="3.5" ry="6" fill="#fff" stroke-width="1"/></g>
<path d="M472,838 L480,842 M470,846 L478,850" stroke="#bbb" stroke-width="1"/>
<line x1="485.6" y1="801.5" x2="485.6" y2="829.0" stroke="#1e1e1e" stroke-width="1.8"/>
<line x1="496.0" y1="829.0" x2="505.0" y2="805.0" stroke="#1e1e1e" stroke-width="1"/>
<g transform="translate(245.4,803.0) rotate(1.0) scale(1.0)" stroke="#1e1e1e" fill="#fff" stroke-width="1.15"><path d="M6.5,-10.7 L49.5,-8.5 L57,-4.1 L57,4.1 L49.5,8.5 L6.5,10.7 Z"/><path d="M49.5,-8.5 Q46.5,0 49.5,8.5" fill="none" stroke-width="1"/><rect x="0" y="-10.7" width="6.5" height="21.4" stroke-width="1.4"/><path d="M0,-6.4 H6.5 M0,-2.1 H6.5 M0,2.1 H6.5 M0,6.4 H6.5" fill="none" stroke-width="1.1"/><path d="M57,-4.1 L65,-4.1 L65,4.1 L57,4.1 Z"/><ellipse cx="65" cy="0" rx="1.6" ry="4.1" fill="#fff"/></g>
<text x="0" y="4.5" font-size="12.5" text-anchor="middle" transform="translate(268.4,803.4) rotate(1.0)">95</text>
<line x1="311.6" y1="804.5" x2="334.5" y2="805.4" stroke="#1e1e1e" stroke-width="1"/>
<g transform="translate(272.4,840.0) rotate(1.5) scale(1.0)" stroke="#1e1e1e" fill="#fff" stroke-width="1.15"><path d="M6.5,-10.7 L49.5,-8.5 L57,-4.1 L57,4.1 L49.5,8.5 L6.5,10.7 Z"/><path d="M49.5,-8.5 Q46.5,0 49.5,8.5" fill="none" stroke-width="1"/><rect x="0" y="-10.7" width="6.5" height="21.4" stroke-width="1.4"/><path d="M0,-6.4 H6.5 M0,-2.1 H6.5 M0,2.1 H6.5 M0,6.4 H6.5" fill="none" stroke-width="1.1"/><path d="M57,-4.1 L65,-4.1 L65,4.1 L57,4.1 Z"/><ellipse cx="65" cy="0" rx="1.6" ry="4.1" fill="#fff"/></g>
<text x="0" y="4.5" font-size="12.5" text-anchor="middle" transform="translate(295.4,840.6) rotate(1.5)">7</text>
<line x1="339.0" y1="841.0" x2="421.5" y2="836.0" stroke="#1e1e1e" stroke-width="1"/>
<g transform="translate(239.6,852.7) rotate(20.7) scale(1.0)" stroke="#1e1e1e" fill="#fff" stroke-width="1.15"><path d="M6.5,-10.7 L49.5,-8.5 L57,-4.1 L57,4.1 L49.5,8.5 L6.5,10.7 Z"/><path d="M49.5,-8.5 Q46.5,0 49.5,8.5" fill="none" stroke-width="1"/><rect x="0" y="-10.7" width="6.5" height="21.4" stroke-width="1.4"/><path d="M0,-6.4 H6.5 M0,-2.1 H6.5 M0,2.1 H6.5 M0,6.4 H6.5" fill="none" stroke-width="1.1"/><path d="M57,-4.1 L65,-4.1 L65,4.1 L57,4.1 Z"/><ellipse cx="65" cy="0" rx="1.6" ry="4.1" fill="#fff"/></g>
<text x="0" y="4.5" font-size="12.5" text-anchor="middle" transform="translate(261.1,860.8) rotate(20.7)">95</text>
<line x1="299.4" y1="874.7" x2="340.6" y2="890.0" stroke="#1e1e1e" stroke-width="1"/>
<line x1="421.5" y1="836.0" x2="360.5" y2="877.0" stroke="#1e1e1e" stroke-width="1"/>
<line x1="446.0" y1="848.8" x2="424.6" y2="900.0" stroke="#1e1e1e" stroke-width="1"/>
<g transform="translate(534.8,751.7) rotate(118.6) scale(1.0)" stroke="#1e1e1e" fill="#fff" stroke-width="1.15"><path d="M6.5,-10.7 L49.5,-8.5 L57,-4.1 L57,4.1 L49.5,8.5 L6.5,10.7 Z"/><path d="M49.5,-8.5 Q46.5,0 49.5,8.5" fill="none" stroke-width="1"/><rect x="0" y="-10.7" width="6.5" height="21.4" stroke-width="1.4"/><path d="M0,-6.4 H6.5 M0,-2.1 H6.5 M0,2.1 H6.5 M0,6.4 H6.5" fill="none" stroke-width="1.1"/><path d="M57,-4.1 L65,-4.1 L65,4.1 L57,4.1 Z"/><ellipse cx="65" cy="0" rx="1.6" ry="4.1" fill="#fff"/></g>
<text x="0" y="4.5" font-size="12.5" text-anchor="middle" transform="translate(523.8,771.9) rotate(0.0)">87</text>
<g transform="translate(557.2,771.6) rotate(105.6) scale(1.0)" stroke="#1e1e1e" fill="#fff" stroke-width="1.15"><path d="M6.5,-10.7 L49.5,-8.5 L57,-4.1 L57,4.1 L49.5,8.5 L6.5,10.7 Z"/><path d="M49.5,-8.5 Q46.5,0 49.5,8.5" fill="none" stroke-width="1"/><rect x="0" y="-10.7" width="6.5" height="21.4" stroke-width="1.4"/><path d="M0,-6.4 H6.5 M0,-2.1 H6.5 M0,2.1 H6.5 M0,6.4 H6.5" fill="none" stroke-width="1.1"/><path d="M57,-4.1 L65,-4.1 L65,4.1 L57,4.1 Z"/><ellipse cx="65" cy="0" rx="1.6" ry="4.1" fill="#fff"/></g>
<text x="0" y="4.5" font-size="12.5" text-anchor="middle" transform="translate(551.0,793.8) rotate(0.0)">95</text>
<path d="M332.5,868.4 L377,893.3 L350.9,939 L305,912.9 Z" stroke="#1e1e1e" stroke-width="1.1" fill="none" stroke-dasharray="5,3" />
<path d="M390,899.8 L436,926 L411,971.8 L364,945.6 Z" stroke="#1e1e1e" stroke-width="1.1" fill="none" stroke-dasharray="5,3" />
<g transform="translate(337,913) rotate(27)" stroke="#1e1e1e" fill="#fff"><rect x="-17.0" y="-6.0" width="34" height="12" rx="6.0" stroke-width="1.3" stroke-dasharray="4,1.2"/><path d="M-13.0,3.0 L13.0,3.0" stroke-width="0.9" stroke-dasharray="3,2"/><ellipse cx="13.0" cy="0" rx="2.5" ry="6.0" fill="none" stroke-width="1"/></g>
<g transform="translate(345,893) rotate(-56)" stroke="#1e1e1e"><rect x="-12.0" y="-3.5" width="24" height="7" fill="#2a2a2a" stroke-width="1"/><path d="M-6.0,-3.5 V3.5 M-2.0,-3.5 V3.5 M2.0,-3.5 V3.5 M6.0,-3.5 V3.5" stroke="#999" stroke-width="0.8"/><rect x="-12.0" y="-6.0" width="5" height="12" fill="#222" stroke-width="1"/></g>
<g transform="translate(403,927.5) rotate(27)" stroke="#1e1e1e" fill="#fff"><rect x="-17.0" y="-6.0" width="34" height="12" rx="6.0" stroke-width="1.3" stroke-dasharray="4,1.2"/><path d="M-13.0,3.0 L13.0,3.0" stroke-width="0.9" stroke-dasharray="3,2"/><ellipse cx="13.0" cy="0" rx="2.5" ry="6.0" fill="none" stroke-width="1"/></g>
<g transform="translate(396,946) rotate(-58)" stroke="#1e1e1e"><rect x="-12.0" y="-3.5" width="24" height="7" fill="#2a2a2a" stroke-width="1"/><path d="M-6.0,-3.5 V3.5 M-2.0,-3.5 V3.5 M2.0,-3.5 V3.5 M6.0,-3.5 V3.5" stroke="#999" stroke-width="0.8"/><rect x="7.0" y="-6.0" width="5" height="12" fill="#222" stroke-width="1"/></g>
<line x1="419.0" y1="911.6" x2="445.0" y2="850.0" stroke="#1e1e1e" stroke-width="1"/>
<line x1="408.4" y1="953.5" x2="450.3" y2="974.4" stroke="#1e1e1e" stroke-width="1"/>
<g transform="translate(509.5,1006.5) rotate(-152.0) scale(1.0)" stroke="#1e1e1e" fill="#fff" stroke-width="1.15"><path d="M6.5,-10.7 L49.5,-8.5 L57,-4.1 L57,4.1 L49.5,8.5 L6.5,10.7 Z"/><path d="M49.5,-8.5 Q46.5,0 49.5,8.5" fill="none" stroke-width="1"/><rect x="0" y="-10.7" width="6.5" height="21.4" stroke-width="1.4"/><path d="M0,-6.4 H6.5 M0,-2.1 H6.5 M0,2.1 H6.5 M0,6.4 H6.5" fill="none" stroke-width="1.1"/><path d="M57,-4.1 L65,-4.1 L65,4.1 L57,4.1 Z"/><ellipse cx="65" cy="0" rx="1.6" ry="4.1" fill="#fff"/></g>
<text x="0" y="4.5" font-size="12.5" text-anchor="middle" transform="translate(489.2,995.7) rotate(0.0)">95</text>
<path d="M512,850 Q503,852 501,866 Q500,878 506,884 L516,886 L520,856 Z" fill="#fff" stroke="#1e1e1e" stroke-width="1.6"/>
<g transform="translate(538,876.5) rotate(25)" stroke="#1e1e1e" fill="#fff"><ellipse cx="0" cy="0" rx="21" ry="33" stroke-width="1.8"/><ellipse cx="2" cy="0" rx="16" ry="28" stroke-width="1.1"/><path d="M-2,-26 Q8,-24 14,-16" fill="none" stroke-width="4.5" stroke-dasharray="4,2.5"/></g>
<path d="M556,862 Q566,870 576,875 L585,877 L585,938 L570,934 Q560,915 538,894 Z" fill="#fff" stroke="none"/>
<path d="M561,870 Q568,874 576,875 L583,876 M530,894 Q538,893 543,897 Q556,908 563,917 L570,934" fill="none" stroke="#1e1e1e" stroke-width="1.8"/>
<path d="M524,886 Q532,880 542,886" fill="none" stroke="#1e1e1e" stroke-width="2.2"/>
<path d="M538,889 Q548,900 556,904" fill="none" stroke="#1e1e1e" stroke-width="1"/>
<g transform="translate(591.4,907.7) rotate(22)" stroke="#1e1e1e" fill="#fff"><ellipse cx="0" cy="0" rx="24" ry="35" stroke-width="1.9"/><ellipse cx="2" cy="1" rx="20" ry="30" stroke-width="1"/><ellipse cx="3" cy="1" rx="15.5" ry="24.5" stroke-width="3.2"/><ellipse cx="4" cy="2" rx="12" ry="19" fill="none" stroke-width="3" stroke-dasharray="6,2" stroke="#333"/><ellipse cx="5" cy="3" rx="8" ry="13" stroke-width="1.2"/><path d="M-6,-18 Q4,-24 10,-16" fill="none" stroke-width="4"/></g>
<line x1="575.5" y1="848.4" x2="575.5" y2="872.0" stroke="#1e1e1e" stroke-width="1.8"/>
<path d="M534,929 L541,928 L543,934 L539,938 L533,937 L532,932 Z" fill="#fff" stroke="#1e1e1e" stroke-width="1.2"/>
<line x1="536.0" y1="910.0" x2="536.0" y2="927.0" stroke="#1e1e1e" stroke-width="1" stroke-dasharray="2,2"/>
<line x1="535.7" y1="940.0" x2="535.7" y2="957.0" stroke="#1e1e1e" stroke-width="1.6"/>
<g transform="translate(600.0,1037.0) rotate(-98.0) scale(1.0)" stroke="#1e1e1e" fill="#fff" stroke-width="1.15"><path d="M6.5,-10.7 L49.5,-8.5 L57,-4.1 L57,4.1 L49.5,8.5 L6.5,10.7 Z"/><path d="M49.5,-8.5 Q46.5,0 49.5,8.5" fill="none" stroke-width="1"/><rect x="0" y="-10.7" width="6.5" height="21.4" stroke-width="1.4"/><path d="M0,-6.4 H6.5 M0,-2.1 H6.5 M0,2.1 H6.5 M0,6.4 H6.5" fill="none" stroke-width="1.1"/><path d="M57,-4.1 L65,-4.1 L65,4.1 L57,4.1 Z"/><ellipse cx="65" cy="0" rx="1.6" ry="4.1" fill="#fff"/></g>
<text x="0" y="4.5" font-size="12.5" text-anchor="middle" transform="translate(596.8,1014.2) rotate(0.0)">95</text>
<line x1="579.5" y1="945.0" x2="590.0" y2="970.0" stroke="#1e1e1e" stroke-width="1"/>
<line x1="611.0" y1="954.0" x2="590.0" y2="967.5" stroke="#1e1e1e" stroke-width="1"/>
<ellipse cx="0" cy="0" rx="21.0" ry="35.0" transform="translate(635.0,933.0) rotate(22.0)" stroke="#1e1e1e" stroke-width="3.2" fill="none"/>
<line x1="650.0" y1="876.0" x2="650.0" y2="898.0" stroke="#1e1e1e" stroke-width="1.8"/>
<g transform="translate(678.0,957.0) rotate(28.0)" stroke="#1e1e1e" stroke-width="2.2"><path d="M0,-32.0 L-6.0,-32.0 A22.0,32.0 0 0 0 -6.0,32.0 L0,32.0 Z" fill="#fff"/><ellipse cx="0" cy="0" rx="22.0" ry="32.0" fill="#fff"/></g>
<g transform="translate(678,957) rotate(28)" stroke="#1e1e1e"><ellipse cx="0" cy="0" rx="21" ry="31" fill="#fff" stroke-width="3"/><ellipse cx="0" cy="0" rx="16" ry="24" fill="#fff" stroke-width="1.2"/><ellipse cx="0.5" cy="0" rx="13" ry="20" fill="#fff" stroke-width="3"/><ellipse cx="1" cy="0" rx="9.5" ry="15" fill="#fff" stroke-width="1"/></g>
<line x1="692.5" y1="904.7" x2="692.5" y2="924.3" stroke="#1e1e1e" stroke-width="1.8"/>
<line x1="676.0" y1="990.0" x2="677.0" y2="1015.0" stroke="#1e1e1e" stroke-width="1" stroke-dasharray="2,2"/>
<g transform="translate(669.4,1081.6) rotate(-90.0) scale(1.0)" stroke="#1e1e1e" fill="#fff" stroke-width="1.15"><path d="M6.5,-10.7 L49.5,-8.5 L57,-4.1 L57,4.1 L49.5,8.5 L6.5,10.7 Z"/><path d="M49.5,-8.5 Q46.5,0 49.5,8.5" fill="none" stroke-width="1"/><rect x="0" y="-10.7" width="6.5" height="21.4" stroke-width="1.4"/><path d="M0,-6.4 H6.5 M0,-2.1 H6.5 M0,2.1 H6.5 M0,6.4 H6.5" fill="none" stroke-width="1.1"/><path d="M57,-4.1 L65,-4.1 L65,4.1 L57,4.1 Z"/><ellipse cx="65" cy="0" rx="1.6" ry="4.1" fill="#fff"/></g>
<text x="0" y="4.5" font-size="12.5" text-anchor="middle" transform="translate(669.4,1058.6) rotate(0.0)">87</text>
<ellipse cx="0" cy="0" rx="21.0" ry="34.0" transform="translate(721.0,981.0) rotate(24.0)" stroke="#1e1e1e" stroke-width="1.6" fill="none"/>
<ellipse cx="0" cy="0" rx="17.0" ry="29.0" transform="translate(721.0,981.0) rotate(24.0)" stroke="#1e1e1e" stroke-width="1.2" fill="none"/>
<line x1="736.3" y1="922.0" x2="736.3" y2="946.0" stroke="#1e1e1e" stroke-width="1.8"/>
<g transform="translate(761.0,892.0) rotate(90.0) scale(1.0)" stroke="#1e1e1e" fill="#fff" stroke-width="1.15"><path d="M6.5,-10.7 L49.5,-8.5 L57,-4.1 L57,4.1 L49.5,8.5 L6.5,10.7 Z"/><path d="M49.5,-8.5 Q46.5,0 49.5,8.5" fill="none" stroke-width="1"/><rect x="0" y="-10.7" width="6.5" height="21.4" stroke-width="1.4"/><path d="M0,-6.4 H6.5 M0,-2.1 H6.5 M0,2.1 H6.5 M0,6.4 H6.5" fill="none" stroke-width="1.1"/><path d="M57,-4.1 L65,-4.1 L65,4.1 L57,4.1 Z"/><ellipse cx="65" cy="0" rx="1.6" ry="4.1" fill="#fff"/></g>
<text x="0" y="4.5" font-size="12.5" text-anchor="middle" transform="translate(761.0,915.0) rotate(0.0)">87</text>
<line x1="762.7" y1="956.8" x2="762.7" y2="985.6" stroke="#1e1e1e" stroke-width="1"/>
<path d="M768,988 Q756,984 750,995 Q744,1008 748,1020 Q752,1026 760,1024 L770,1000 Z" fill="#fff" stroke="#1e1e1e" stroke-width="1.6"/>
<path d="M748,1010 Q747,1018 752,1024" fill="none" stroke="#1e1e1e" stroke-width="4"/>
<g transform="translate(782,1015.6) rotate(24)" stroke="#1e1e1e" fill="#fff"><ellipse cx="0" cy="0" rx="26" ry="38" stroke-width="2.2"/><path d="M-24,-12 A26,38 0 0 0 10,36" fill="none" stroke-width="4"/><ellipse cx="0" cy="0" rx="23" ry="34.5" fill="none" stroke-width="5" stroke-dasharray="2.4,1.1"/><ellipse cx="1" cy="0" rx="19" ry="29" stroke-width="1.5"/><ellipse cx="2" cy="0" rx="14.5" ry="22.5" fill="none" stroke-width="9" stroke-dasharray="3,1" stroke="#222"/><ellipse cx="3" cy="1" rx="8.5" ry="12.5" fill="#fff" stroke-width="3.5"/><path d="M0,-22 Q18,-14 14,12" fill="none" stroke-width="9" stroke="#1a1a1a"/><path d="M-14,12 Q-6,26 10,22" fill="none" stroke-width="6" stroke="#1a1a1a"/><path d="M-2,-6 Q4,-10 8,-2" fill="none" stroke-width="1.5"/></g>
<line x1="795.0" y1="961.6" x2="795.0" y2="978.4" stroke="#1e1e1e" stroke-width="1.8"/>
<g transform="translate(826.0,1040.0) rotate(24.0)" stroke="#1e1e1e" stroke-width="1.6"><path d="M0,-20.0 L-4.0,-20.0 A12.0,20.0 0 0 0 -4.0,20.0 L0,20.0 Z" fill="#222"/><ellipse cx="0" cy="0" rx="12.0" ry="20.0" fill="#fff"/></g>
<g transform="translate(826,1040) rotate(24)" stroke="#1e1e1e"><ellipse cx="0" cy="0" rx="11.5" ry="19.5" fill="#fff" stroke-width="3"/><ellipse cx="1" cy="0" rx="8" ry="14.5" fill="#fff" stroke-width="2.8"/><ellipse cx="1" cy="0" rx="5.5" ry="11" fill="#fff" stroke-width="1"/></g>
<line x1="830.8" y1="1000.0" x2="830.8" y2="1019.0" stroke="#1e1e1e" stroke-width="1.8"/>
<text x="0" y="0" font-size="27" fill="#173f2b" transform="translate(67,369) rotate(28)">© Boats.net</text>
<text x="473.0" y="121.0" font-size="21.9" font-weight="bold" textLength="18.6" lengthAdjust="spacingAndGlyphs">74</text>
<text x="379.3" y="251.2" font-size="21.1" font-weight="bold" textLength="19.0" lengthAdjust="spacingAndGlyphs">73</text>
<text x="480.5" y="316.4" font-size="22.3" font-weight="bold" textLength="19.0" lengthAdjust="spacingAndGlyphs">75</text>
<text x="541.0" y="302.2" font-size="23.4" font-weight="bold" textLength="17.5" lengthAdjust="spacingAndGlyphs">76</text>
<text x="510.8" y="340.5" font-size="21.4" font-weight="bold" textLength="19.2" lengthAdjust="spacingAndGlyphs">77</text>
<text x="489.0" y="391.5" font-size="23.0" font-weight="bold" textLength="19.0" lengthAdjust="spacingAndGlyphs">50</text>
<text x="822.6" y="423.7" font-size="21.9" font-weight="bold" textLength="7.4" lengthAdjust="spacingAndGlyphs">1</text>
<text x="174.3" y="524.7" font-size="21.7" font-weight="bold" textLength="19.9" lengthAdjust="spacingAndGlyphs">60</text>
<text x="350.0" y="535.3" font-size="21.1" font-weight="bold" textLength="18.6" lengthAdjust="spacingAndGlyphs">58</text>
<text x="284.0" y="590.6" font-size="22.3" font-weight="bold" textLength="18.5" lengthAdjust="spacingAndGlyphs">59</text>
<text x="346.5" y="631.7" font-size="22.4" font-weight="bold" textLength="19.0" lengthAdjust="spacingAndGlyphs">57</text>
<text x="378.5" y="643.0" font-size="22.3" font-weight="bold" textLength="19.0" lengthAdjust="spacingAndGlyphs">56</text>
<text x="456.5" y="689.8" font-size="22.6" font-weight="bold" textLength="19.0" lengthAdjust="spacingAndGlyphs">52</text>
<text x="494.4" y="699.3" font-size="20.4" font-weight="bold" textLength="18.3" lengthAdjust="spacingAndGlyphs">55</text>
<text x="564.0" y="758.0" font-size="21.9" font-weight="bold" textLength="19.0" lengthAdjust="spacingAndGlyphs">54</text>
<text x="605.8" y="782.0" font-size="22.1" font-weight="bold" textLength="19.6" lengthAdjust="spacingAndGlyphs">53</text>
<text x="670.6" y="793.4" font-size="22.4" font-weight="bold" textLength="18.0" lengthAdjust="spacingAndGlyphs">51</text>
<text x="753.0" y="838.5" font-size="22.4" font-weight="bold" textLength="19.0" lengthAdjust="spacingAndGlyphs">49</text>
<text x="365.0" y="723.0" font-size="21.9" font-weight="bold" textLength="19.0" lengthAdjust="spacingAndGlyphs">72</text>
<text x="402.6" y="745.0" font-size="21.9" font-weight="bold" textLength="17.4" lengthAdjust="spacingAndGlyphs">71</text>
<text x="430.7" y="781.6" font-size="20.9" font-weight="bold" textLength="18.3" lengthAdjust="spacingAndGlyphs">69</text>
<text x="452.7" y="793.8" font-size="20.4" font-weight="bold" textLength="18.3" lengthAdjust="spacingAndGlyphs">68</text>
<text x="476.0" y="793.8" font-size="20.4" font-weight="bold" textLength="18.8" lengthAdjust="spacingAndGlyphs">67</text>
<text x="566.4" y="843.2" font-size="20.3" font-weight="bold" textLength="18.3" lengthAdjust="spacingAndGlyphs">66</text>
<text x="526.6" y="975.9" font-size="21.3" font-weight="bold" textLength="17.4" lengthAdjust="spacingAndGlyphs">70</text>
<text x="638.3" y="873.3" font-size="20.6" font-weight="bold" textLength="19.1" lengthAdjust="spacingAndGlyphs">65</text>
<text x="679.0" y="899.0" font-size="20.7" font-weight="bold" textLength="18.7" lengthAdjust="spacingAndGlyphs">64</text>
<text x="725.3" y="918.0" font-size="21.0" font-weight="bold" textLength="18.7" lengthAdjust="spacingAndGlyphs">63</text>
<text x="781.0" y="955.6" font-size="20.9" font-weight="bold" textLength="17.7" lengthAdjust="spacingAndGlyphs">61</text>
<text x="819.0" y="992.8" font-size="20.6" font-weight="bold" textLength="18.5" lengthAdjust="spacingAndGlyphs">62</text>
<text x="759.9" y="1156.0" font-size="20.3" font-weight="bold" textLength="49.1" lengthAdjust="spacingAndGlyphs">34780</text>
<text x="421.0" y="363.2" font-size="20.3" font-weight="bold" textLength="15.0" lengthAdjust="spacingAndGlyphs">A</text>
<text x="128.8" y="991.6" font-size="14.2" textLength="163.9" lengthAdjust="spacingAndGlyphs" fill="#3c3c3c">Loctite 271 (92-809820)</text>
<g transform="translate(53.9,986.0) rotate(0.0) scale(0.92)" stroke="#1e1e1e" fill="#fff" stroke-width="1.6"><path d="M6.5,-10.7 L49.5,-8.5 L57,-4.1 L57,4.1 L49.5,8.5 L6.5,10.7 Z"/><path d="M49.5,-8.5 Q46.5,0 49.5,8.5" fill="none" stroke-width="1"/><rect x="0" y="-10.7" width="6.5" height="21.4" stroke-width="1.4"/><path d="M0,-6.4 H6.5 M0,-2.1 H6.5 M0,2.1 H6.5 M0,6.4 H6.5" fill="none" stroke-width="1.1"/><path d="M57,-4.1 L65,-4.1 L65,4.1 L57,4.1 Z"/><ellipse cx="65" cy="0" rx="1.6" ry="4.1" fill="#fff"/></g>
<text x="80" y="990.5" font-size="11.5" text-anchor="middle" fill="#222">7</text>
<text x="127.2" y="1019.6" font-size="14.2" textLength="296.0" lengthAdjust="spacingAndGlyphs" fill="#3c3c3c">Super Duty Gear Lubricant (92-13783A24)</text>
<g transform="translate(53.9,1013.2) rotate(0.0) scale(0.92)" stroke="#1e1e1e" fill="#fff" stroke-width="1.6"><path d="M6.5,-10.7 L49.5,-8.5 L57,-4.1 L57,4.1 L49.5,8.5 L6.5,10.7 Z"/><path d="M49.5,-8.5 Q46.5,0 49.5,8.5" fill="none" stroke-width="1"/><rect x="0" y="-10.7" width="6.5" height="21.4" stroke-width="1.4"/><path d="M0,-6.4 H6.5 M0,-2.1 H6.5 M0,2.1 H6.5 M0,6.4 H6.5" fill="none" stroke-width="1.1"/><path d="M57,-4.1 L65,-4.1 L65,4.1 L57,4.1 Z"/><ellipse cx="65" cy="0" rx="1.6" ry="4.1" fill="#fff"/></g>
<text x="82" y="1017.7" font-size="11.5" text-anchor="middle" fill="#222">87</text>
<text x="129.4" y="1046.9" font-size="14.2" textLength="255.6" lengthAdjust="spacingAndGlyphs" fill="#3c3c3c">Anti-Corrosion Grease (92-78376A6)</text>
<g transform="translate(53.9,1040.7) rotate(0.0) scale(0.92)" stroke="#1e1e1e" fill="#fff" stroke-width="1.6"><path d="M6.5,-10.7 L49.5,-8.5 L57,-4.1 L57,4.1 L49.5,8.5 L6.5,10.7 Z"/><path d="M49.5,-8.5 Q46.5,0 49.5,8.5" fill="none" stroke-width="1"/><rect x="0" y="-10.7" width="6.5" height="21.4" stroke-width="1.4"/><path d="M0,-6.4 H6.5 M0,-2.1 H6.5 M0,2.1 H6.5 M0,6.4 H6.5" fill="none" stroke-width="1.1"/><path d="M57,-4.1 L65,-4.1 L65,4.1 L57,4.1 Z"/><ellipse cx="65" cy="0" rx="1.6" ry="4.1" fill="#fff"/></g>
<text x="82" y="1045.2" font-size="11.5" text-anchor="middle" fill="#222">94</text>
<text x="127.2" y="1075.2" font-size="14.2" textLength="243.7" lengthAdjust="spacingAndGlyphs" fill="#3c3c3c">2-4-C  With Teflon (92-825407A12)</text>
<g transform="translate(53.9,1067.0) rotate(0.0) scale(0.92)" stroke="#1e1e1e" fill="#fff" stroke-width="1.6"><path d="M6.5,-10.7 L49.5,-8.5 L57,-4.1 L57,4.1 L49.5,8.5 L6.5,10.7 Z"/><path d="M49.5,-8.5 Q46.5,0 49.5,8.5" fill="none" stroke-width="1"/><rect x="0" y="-10.7" width="6.5" height="21.4" stroke-width="1.4"/><path d="M0,-6.4 H6.5 M0,-2.1 H6.5 M0,2.1 H6.5 M0,6.4 H6.5" fill="none" stroke-width="1.1"/><path d="M57,-4.1 L65,-4.1 L65,4.1 L57,4.1 Z"/><ellipse cx="65" cy="0" rx="1.6" ry="4.1" fill="#fff"/></g>
<text x="82" y="1071.5" font-size="11.5" text-anchor="middle" fill="#222">95</text>
<text x="59.6" y="1099.2" font-size="15.5" font-weight="bold" textLength="276.4" lengthAdjust="spacingAndGlyphs" fill="#2a2a2a">A – Torque nut to 55 lb. in. (74.5 Nm)</text>
</svg></body></html>
